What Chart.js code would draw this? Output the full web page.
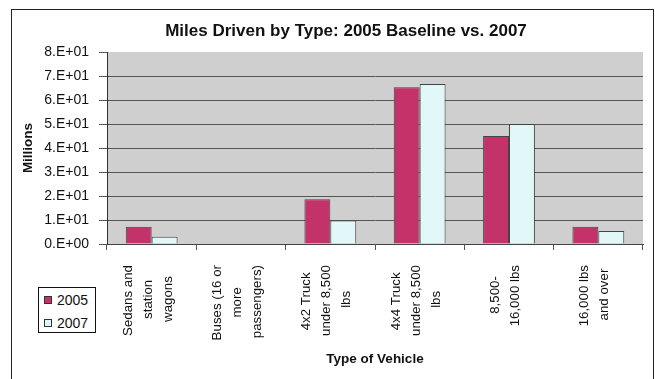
<!DOCTYPE html>
<html>
<head>
<meta charset="utf-8">
<script src="https://cdn.jsdelivr.net/npm/chart.js@4"></script>
<style>
  html, body { margin: 0; padding: 0; background: #fff; }
  #wrap { position: relative; width: 655px; height: 379px; overflow: hidden; background: #fff; }
  #frame { position: absolute; left: 11px; top: 9px; width: 641px; height: 420px; border: 1.5px solid #222; }
  #chart { position: absolute; left: 0; top: 0; }
  #legend { position: absolute; left: 38px; top: 287px; width: 56px; height: 44px; border: 1.5px solid #111; background: #fff;
            font: 14px "Liberation Sans", Arial, sans-serif; color: #111; }
  #legend .item { position: absolute; left: 0; height: 16px; line-height: 16px; white-space: nowrap; }
  #legend .sw { position: absolute; left: 5px; top: 4px; width: 6px; height: 6px; border: 1px solid #333; }
  #legend .tx { position: absolute; left: 18px; top: 0; }
</style>
</head>
<body>
<div id="wrap">
  <div id="frame"></div>
  <canvas id="chart" width="683" height="379"></canvas>
  <div id="legend"></div>
</div>
<script>
// ---------- data ----------
const categories = [
  ['Sedans and', 'station', 'wagons'],
  ['Buses (16 or', 'more', 'passengers)'],
  ['4x2 Truck', 'under 8,500', 'lbs'],
  ['4x4 Truck', 'under 8,500', 'lbs'],
  ['8,500-', '16,000 lbs'],
  ['16,000 lbs', 'and over']
];
const seriesNames = ['2005', '2007'];
const miles2005 = [7.2, 0, 18.6, 65.3, 45.0, 7.2];
const miles2007 = [3.0, 0, 9.8, 66.7, 50.0, 5.4];
const yMin = 0, yMax = 80, yStep = 10;
const chartTitle = 'Miles Driven by Type: 2005 Baseline vs. 2007';
const yTitle = 'Millions';
const xTitle = 'Type of Vehicle';

// ---------- styling ----------
const FAMILY = '"Liberation Sans", Arial, sans-serif';
const X_FONT = 13.3;
const X_LINE = 20;
const X_SHIFT = -3.5;
const colors2005 = '#c4326a';
const colors2007 = '#e2f7f7';

function sci(v) {
  if (v === 0) return '0.E+00';
  const e = Math.floor(Math.log10(Math.abs(v)));
  const m = Math.round(v / Math.pow(10, e));
  return m + '.E' + (e >= 0 ? '+' : '-') + String(Math.abs(e)).padStart(2, '0');
}

const mctx = document.createElement('canvas').getContext('2d');
mctx.font = X_FONT + 'px ' + FAMILY;
function centerLines(lines) {
  const ws = lines.map(l => mctx.measureText(l).width);
  const max = Math.max(...ws);
  const sp = mctx.measureText(' ').width;
  return lines.map((l, i) => l + ' '.repeat(Math.round((max - ws[i]) / 2 / sp)));
}

const plotBg = {
  id: 'plotBg',
  beforeDraw(chart) {
    const {ctx, chartArea: a} = chart;
    ctx.save();
    ctx.fillStyle = '#cfcfcf';
    ctx.fillRect(a.left, a.top, a.right - a.left, a.bottom - a.top);
    ctx.restore();
  }
};

// center each multi-line rotated category label block on its tick
const xLabelCenter = {
  id: 'xLabelCenter',
  beforeDraw(chart) {
    const s = chart.scales.x;
    const items = s.getLabelItems(chart.chartArea);
    items.forEach((it, i) => {
      if (it._centered) return;
      const n = Array.isArray(categories[i]) ? categories[i].length : 1;
      it.options.translation[0] += -((n - 1) / 2) * X_LINE + X_SHIFT;
      it._centered = true;
    });
  }
};

const htmlLegend = {
  id: 'htmlLegend',
  afterUpdate(chart) {
    const box = document.getElementById('legend');
    box.innerHTML = '';
    const items = Chart.defaults.plugins.legend.labels.generateLabels(chart);
    items.forEach((it, i) => {
      const row = document.createElement('div');
      row.className = 'item';
      row.style.top = (4 + i * 23) + 'px';
      const sw = document.createElement('span');
      sw.className = 'sw';
      sw.style.background = it.fillStyle;
      const tx = document.createElement('span');
      tx.className = 'tx';
      tx.textContent = it.text;
      row.appendChild(sw);
      row.appendChild(tx);
      box.appendChild(row);
    });
  }
};

new Chart(document.getElementById('chart'), {
  type: 'bar',
  data: {
    labels: categories,
    datasets: [
      { label: seriesNames[0], data: miles2005, backgroundColor: colors2005, borderColor: '#444', borderWidth: 1 },
      { label: seriesNames[1], data: miles2007, backgroundColor: colors2007, borderColor: '#444', borderWidth: 1 }
    ]
  },
  options: {
    responsive: false,
    animation: false,
    devicePixelRatio: 1,
    layout: { padding: { left: 21, right: 12, top: 0, bottom: 0 } },
    datasets: { bar: { categoryPercentage: 0.58, barPercentage: 1.0 } },
    plugins: {
      legend: { display: false },
      tooltip: { enabled: false },
      title: {
        display: true, text: chartTitle, color: '#111',
        font: { family: FAMILY, size: 17, weight: 'bold' },
        padding: { top: 20.8, bottom: 10.8 }
      }
    },
    scales: {
      x: {
        offset: true,
        grid: { offset: true, drawOnChartArea: false, drawTicks: true, tickLength: 6, color: '#555' },
        border: { color: '#444', width: 1 },
        ticks: {
          autoSkip: false, minRotation: 90, maxRotation: 90, padding: 15, color: '#111',
          font: { family: FAMILY, size: X_FONT, lineHeight: X_LINE + 'px' },
          callback: (v, i) => centerLines(categories[i])
        },
        title: {
          display: true, text: xTitle, color: '#111',
          font: { family: FAMILY, size: 13.5, weight: 'bold' },
          padding: { top: 0, bottom: 11.9 }
        },
        afterFit: s => { s.height = 135; }
      },
      y: {
        min: yMin, max: yMax,
        ticks: {
          stepSize: yStep, padding: 10, color: '#111',
          font: { family: FAMILY, size: 14 },
          callback: v => sci(v)
        },
        grid: {
          color: c => (c.tick && c.tick.value === yMax) ? 'rgba(0,0,0,0)' : '#555',
          tickColor: '#555', tickLength: 8, lineWidth: 1
        },
        border: { color: '#333', width: 1 },
        title: {
          display: true, text: yTitle, color: '#111',
          font: { family: FAMILY, size: 13.5, weight: 'bold' },
          padding: { top: -1.1, bottom: 0 }
        },
        afterFit: s => { s.width = 86; }
      },
      rightSpace: {
        type: 'linear', position: 'right', display: true,
        grid: { display: false, drawTicks: false },
        ticks: { display: false },
        border: { display: false },
        afterFit: s => { s.width = 28; }
      }
    }
  },
  plugins: [plotBg, xLabelCenter, htmlLegend]
});
</script>
</body>
</html>
